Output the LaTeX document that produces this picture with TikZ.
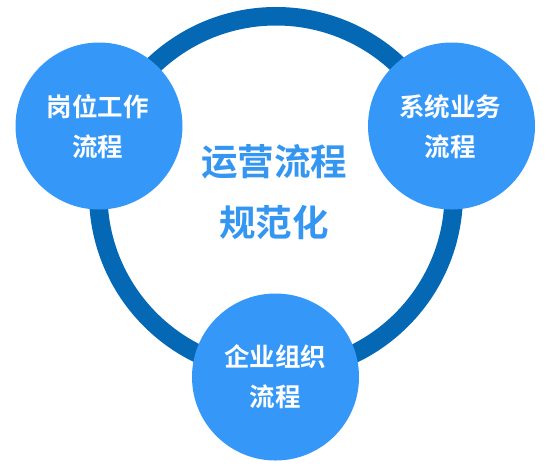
\documentclass[tikz,border=0pt]{standalone}
\usepackage{fontspec}
\newfontfamily\cjk{Noto Sans CJK SC Bold}
\newfontfamily\cjkb{Noto Sans CJK SC Bold}
\definecolor{ringblue}{HTML}{0468B4}
\definecolor{ballblue}{HTML}{3598F8}
\definecolor{titleblue}{HTML}{3596F2}
\begin{document}
\begin{tikzpicture}[x=1pt,y=-1pt,
  ringstyle/.style={circle,draw=ringblue,line width=18.5pt,minimum size=355.5pt,inner sep=0pt},
  ball/.style={circle,fill=ballblue,minimum size=167pt,inner sep=0pt},
  balltext/.style={text=white,font=\cjk\fontsize{25.5}{40}\selectfont,align=center},
  title/.style={text=titleblue,font=\cjkb\fontsize{36.5}{60.5}\selectfont,align=center}]
\useasboundingbox (0,0) rectangle (553,467);
\node[ringstyle] (ring) at (276,194) {};
\node[ball] (b1) at (99,126) {};
\node[ball] (b2) at (451.5,126) {};
\node[ball] (b3) at (275.5,377) {};
\node[balltext] (t1) at (97.5,127) {岗位工作\\流程};
\node[balltext] (t2) at (450,127) {系统业务\\流程};
\node[balltext] (t3) at (275,377) {企业组织\\流程};
\node[title] (c) at (274,192) {运营流程\\规范化};
\end{tikzpicture}
\end{document}
